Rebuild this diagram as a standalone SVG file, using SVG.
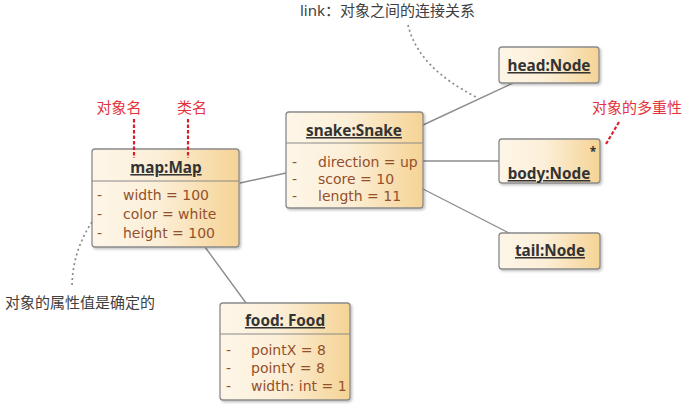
<svg xmlns="http://www.w3.org/2000/svg" width="694" height="415" viewBox="0 0 694 415">
<defs>
<linearGradient id="g" x1="0" y1="0" x2="1" y2="0">
<stop offset="0" stop-color="#fdf6e8"/>
<stop offset="0.45" stop-color="#fcefd8"/>
<stop offset="1" stop-color="#f5d394"/>
</linearGradient>
<filter id="sh" x="-10%" y="-10%" width="130%" height="130%">
<feDropShadow dx="1.5" dy="1.5" stdDeviation="1.2" flood-color="#000" flood-opacity="0.25"/>
</filter>
</defs>
<style>
.box{fill:url(#g);stroke:#8a8a8a;stroke-width:1.3;filter:url(#sh)}
.sep{stroke:#8a8a8a;stroke-width:1.2}
.t{font-family:"Noto Sans","Open Sans",sans-serif;font-size:15.3px;font-weight:bold;fill:#333;text-decoration:underline}
.a{font-family:"DejaVu Sans",sans-serif;font-size:14px;fill:#94502c}
.ann{font-family:"Noto Sans CJK SC",sans-serif;font-size:15px;fill:#e3343c}
.note{font-family:"Noto Sans","Noto Sans CJK SC",sans-serif;font-size:15px;fill:#404040}
.c{stroke:#8c8c8c;stroke-width:1.4;fill:none}
.dot{stroke:#8a8a8a;stroke-width:1.7;fill:none;stroke-dasharray:2 3}
.rd{stroke:#d8202a;stroke-width:2.2;fill:none;stroke-dasharray:3.5 2}
</style>
<g id="connectors">
<line class="c" x1="240" y1="183" x2="286" y2="173"/>
<line class="c" x1="205" y1="247" x2="246" y2="303"/>
<line class="c" x1="423" y1="125" x2="513" y2="83"/>
<line class="c" x1="423" y1="161" x2="499" y2="161"/>
<line class="c" x1="423" y1="189" x2="509" y2="233"/>
</g>
<g id="map">
<rect class="box" x="92" y="149" width="147" height="98" rx="3"/>
<line class="sep" x1="92" y1="181" x2="239" y2="181"/>
<text class="t" x="166" y="173" text-anchor="middle">map:Map</text>
<text class="a" x="97" y="200">-</text><text class="a" x="123" y="200">width = 100</text>
<text class="a" x="97" y="219">-</text><text class="a" x="123" y="219">color = white</text>
<text class="a" x="97" y="238">-</text><text class="a" x="123" y="238">height = 100</text>
</g>
<g id="snake">
<rect class="box" x="286" y="112" width="137" height="96" rx="3"/>
<line class="sep" x1="286" y1="143" x2="423" y2="143"/>
<text class="t" x="354" y="136" text-anchor="middle">snake:Snake</text>
<text class="a" x="292" y="167">-</text><text class="a" x="318" y="167">direction = up</text>
<text class="a" x="292" y="184">-</text><text class="a" x="318" y="184">score = 10</text>
<text class="a" x="292" y="201">-</text><text class="a" x="318" y="201">length = 11</text>
</g>
<g id="head">
<rect class="box" x="499" y="47" width="100" height="36" rx="3"/>
<text class="t" x="549" y="71" text-anchor="middle">head:Node</text>
</g>
<g id="body">
<rect class="box" x="499" y="139" width="101" height="44" rx="3"/>
<text class="t" x="593" y="156" text-anchor="middle" style="text-decoration:none;font-size:12px">*</text>
<text class="t" x="549" y="179" text-anchor="middle">body:Node</text>
</g>
<g id="tail">
<rect class="box" x="499" y="233" width="101" height="36" rx="3"/>
<text class="t" x="550" y="256" text-anchor="middle">tail:Node</text>
</g>
<g id="food">
<rect class="box" x="220" y="303" width="130" height="97" rx="3"/>
<line class="sep" x1="220" y1="334" x2="350" y2="334"/>
<text class="t" x="285" y="326" text-anchor="middle">food: Food</text>
<text class="a" x="226" y="355">-</text><text class="a" x="251" y="355">pointX = 8</text>
<text class="a" x="226" y="373">-</text><text class="a" x="251" y="373">pointY = 8</text>
<text class="a" x="226" y="391">-</text><text class="a" x="251" y="391">width: int = 1</text>
</g>
<g id="annotations">
<text class="ann" x="119" y="113" text-anchor="middle">对象名</text>
<line class="rd" x1="134" y1="119" x2="134" y2="158"/>
<text class="ann" x="192" y="113" text-anchor="middle">类名</text>
<line class="rd" x1="188" y1="119" x2="188" y2="158"/>
<text class="ann" x="637" y="113" text-anchor="middle">对象的多重性</text>
<line class="rd" x1="619" y1="122" x2="606" y2="144"/>
<text class="note" x="300" y="16">link：对象之间的连接关系</text>
<path class="dot" d="M408 25 Q418 68 478 98"/>
<text class="note" x="5" y="308">对象的属性值是确定的</text>
<path class="dot" d="M92 222 Q72 252 72 288"/>
</g>
</svg>
